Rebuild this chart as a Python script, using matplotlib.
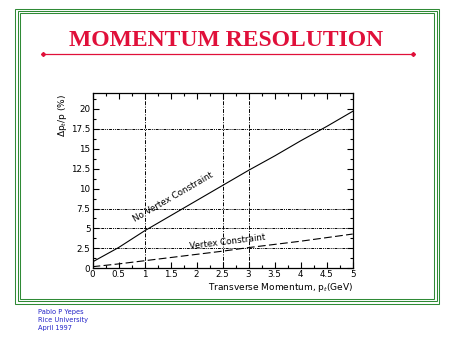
import matplotlib
matplotlib.use("Agg")
import matplotlib.pyplot as plt
from matplotlib.patches import Rectangle
from matplotlib.lines import Line2D

# momentum (GeV) and resolution (%)
pt = [0, 0.5, 1, 1.5, 2, 2.5, 3, 3.5, 4, 4.5, 5]
res_no_vtx = [0.8, 2.6, 4.7, 6.6, 8.5, 10.4, 12.3, 14.1, 16.0, 17.8, 19.7]
res_vtx = [0.2, 0.55, 0.95, 1.35, 1.75, 2.15, 2.6, 3.0, 3.4, 3.85, 4.3]

xticks = [0, 0.5, 1, 1.5, 2, 2.5, 3, 3.5, 4, 4.5, 5]
xtick_labels = ["0", "0.5", "1", "1.5", "2", "2.5", "3", "3.5", "4", "4.5", "5"]
yticks = [0, 2.5, 5, 7.5, 10, 12.5, 15, 17.5, 20]
ytick_labels = ["0", "2.5", "5", "7.5", "10", "12.5", "15", "17.5", "20"]
hgrid = [2.5, 5, 7.5, 17.5]
vgrid = [1, 2.5, 3]

W, H = 452, 339
fig = plt.figure(figsize=(W / 100, H / 100), dpi=100)
fig.patch.set_facecolor("white")

# green triple frame
green = "#2f8a35"
for off in [0, 2.3, 4.6]:
    x0, y0 = 15.5 + off, 8.5 + off
    x1, y1 = 439 - off, 303.5 - off
    fig.patches.append(Rectangle((x0 / W, 1 - y1 / H), (x1 - x0) / W, (y1 - y0) / H,
                                 transform=fig.transFigure, fill=False,
                                 edgecolor=green, lw=0.75))

# title and underline
red = "#e0103a"
fig.text(226 / W, 1 - 41 / H, "MOMENTUM RESOLUTION", ha="center", va="center",
         fontsize=17, color=red, family="Liberation Serif", fontweight="bold")
fig.lines.append(Line2D([43 / W, 413 / W], [1 - 54 / H, 1 - 54 / H],
                        transform=fig.transFigure, color=red, lw=0.9))
fig.lines.append(Line2D([43 / W, 413 / W], [1 - 54 / H, 1 - 54 / H],
                        transform=fig.transFigure, color=red, lw=0,
                        marker="D", markersize=2))

# footer
blue = "#2323c8"
for i, s in enumerate(["Pablo P Yepes", "Rice University", "April 1997"]):
    fig.text(38 / W, 1 - (312 + i * 8) / H, s, fontsize=4.8, color=blue,
             va="center", ha="left")

ax = fig.add_axes([92.5 / W, 1 - 268.3 / H, 260.2 / W, 175.3 / H])
ax.set_xlim(0, 5)
ax.set_ylim(0, 22)

for y in hgrid:
    ax.axhline(y, color="black", lw=0.7, ls=(0, (3, 1, 1, 1, 1, 1)), zorder=1)
for x in vgrid:
    ax.axvline(x, color="black", lw=0.7, ls=(0, (4, 1.5, 1, 1.5)), zorder=1)

ax.plot(pt, res_no_vtx, color="black", lw=0.8)
ax.plot(pt, res_vtx, color="black", lw=0.8, ls=(0, (7, 3)))

ax.text(1.55, 8.9, "No Vertex Constraint", fontsize=6.3, rotation=30,
        ha="center", va="center", rotation_mode="anchor")
ax.text(2.6, 3.3, "Vertex Constraint", fontsize=6.3, rotation=7,
        ha="center", va="center", rotation_mode="anchor")

ax.set_xticks(xticks)
ax.set_xticklabels(xtick_labels)
ax.set_yticks(yticks)
ax.set_yticklabels(ytick_labels)
ax.set_xticks([v + 0.25 for v in xticks[:-1]], minor=True)
ax.set_yticks([v + 1.25 for v in yticks], minor=True)
ax.tick_params(which="both", direction="in", top=True, right=True, labelsize=6.3,
               pad=1.5)
ax.tick_params(which="major", length=4, width=0.8)
ax.tick_params(which="minor", length=2.5, width=0.8)
for sp in ax.spines.values():
    sp.set_linewidth(0.9)

# axis titles placed in figure pixels like on the slide
fig.text(353 / W, 1 - 287 / H, r"Transverse Momentum, p$_t$(GeV)", fontsize=6.5,
         ha="right", va="center")
fig.text(63 / W, 1 - 94 / H, r"$\Delta$p$_t$/p (%)", fontsize=6.5, rotation=90,
         ha="center", va="top")

fig.savefig("out.png", dpi=100)
